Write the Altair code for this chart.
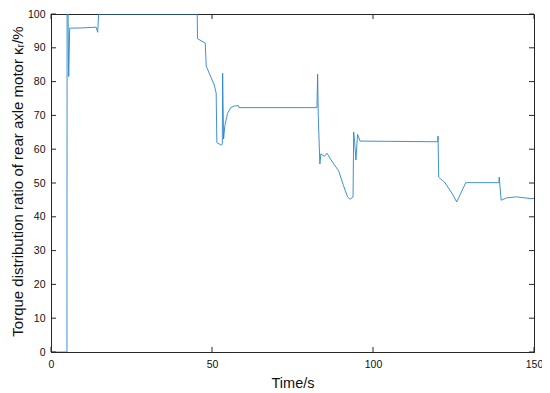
import altair as alt
import pandas as pd

time_s = [0, 4.95, 5.0, 5.3, 5.5, 5.8, 10.0, 14.0, 14.5, 14.8, 45.4, 45.5, 47.9, 48.2,
          50.7, 51.3, 51.5, 52.9, 53.2, 53.3, 53.6, 54.0, 54.8, 55.8, 57.0, 58.2, 58.4,
          82.6, 82.8, 83.0, 83.5, 83.8, 84.9, 85.7, 87.8, 89.3, 90.8, 92.1, 92.9, 93.8,
          94.0, 94.3, 94.7, 95.2, 96.0, 120.1, 120.2, 120.4, 121.0, 121.5, 122.2, 122.9,
          124.5, 126.0, 128.8, 139.1, 139.2, 139.8, 141.5, 144.6, 148.8, 150.0]
ratio = [0, 0, 100, 100, 81.5, 95.8, 95.9, 96.1, 94.6, 100, 100, 92.7, 91.4, 84.6,
         79.0, 76.6, 62.0, 61.2, 61.5, 82.5, 63.0, 67.0, 70.5, 72.3, 72.8, 72.9, 72.3,
         72.3, 82.2, 70.0, 55.6, 58.6, 57.9, 58.8, 55.6, 53.7, 49.3, 45.9, 45.2, 45.9,
         65.1, 62.0, 56.8, 64.4, 62.4, 62.2, 63.9, 51.75, 51.2, 50.8, 50.3, 49.3,
         47.0, 44.4, 50.1, 50.1, 51.75, 44.9, 45.6, 45.9, 45.4, 45.4]

x_ticks = [0, 50, 100, 150]
y_ticks = [0, 10, 20, 30, 40, 50, 60, 70, 80, 90, 100]

W, H = 483, 338
AX = "#262626"
FONT = "Liberation Sans"

df = pd.DataFrame({"t": time_s, "v": ratio, "i": list(range(len(time_s)))})
xt = pd.DataFrame({"t": x_ticks})
yt = pd.DataFrame({"v": y_ticks})

xscale = alt.Scale(domain=[0, 150], nice=False, zero=False)
yscale = alt.Scale(domain=[0, 100], nice=False, zero=False)

x_axis = alt.Axis(title="Time/s", values=x_ticks, tickSize=0, labelPadding=7,
                  labelOverlap=False, labelFlush=False,
                  domainColor=AX, labelColor="#111111", labelFontSize=10.5,
                  labelFont=FONT, titleFont=FONT, titleFontSize=14.5,
                  titleFontWeight="normal", titleColor="#111111",
                  titleY=35, titleBaseline="alphabetic", grid=False)
y_axis = alt.Axis(title="Torque distribution ratio of rear axle motor  κᵣ/%",
                  values=y_ticks, tickSize=0, labelPadding=6,
                  labelOverlap=False, labelFlush=False,
                  domainColor=AX, labelColor="#111111", labelFontSize=10.5,
                  labelFont=FONT, titleFont=FONT, titleFontSize=15,
                  titleFontWeight="normal", titleColor="#111111",
                  titleX=-34, titleY=167, titleBaseline="middle",
                  titleAlign="center", grid=False)

X = alt.X("t:Q", scale=xscale, axis=x_axis)
Y = alt.Y("v:Q", scale=yscale, axis=y_axis)

line = alt.Chart(df).mark_line(color="#2a84c9", strokeWidth=0.9, clip=True).encode(
    x=X, y=Y, order="i:Q")

tick_len = 5
left_ticks = alt.Chart(yt).mark_rule(color=AX, strokeWidth=1).encode(
    y=Y, x=alt.value(0), x2=alt.value(tick_len))
right_ticks = alt.Chart(yt).mark_rule(color=AX, strokeWidth=1).encode(
    y=Y, x=alt.value(W - tick_len), x2=alt.value(W))
bottom_ticks = alt.Chart(xt).mark_rule(color=AX, strokeWidth=1).encode(
    x=X, y=alt.value(H), y2=alt.value(H - tick_len))
top_ticks = alt.Chart(xt).mark_rule(color=AX, strokeWidth=1).encode(
    x=X, y=alt.value(0), y2=alt.value(tick_len))

chart = alt.layer(line, left_ticks, right_ticks, bottom_ticks, top_ticks).properties(
    width=W, height=H,
    autosize=alt.AutoSizeParams(type="none"),
    padding={"left": 43, "top": 6, "right": 8, "bottom": 40},
    background="white",
).configure_view(stroke=AX, strokeWidth=1)

chart.save("out.html", embed_options={"renderer": "svg", "actions": False})
